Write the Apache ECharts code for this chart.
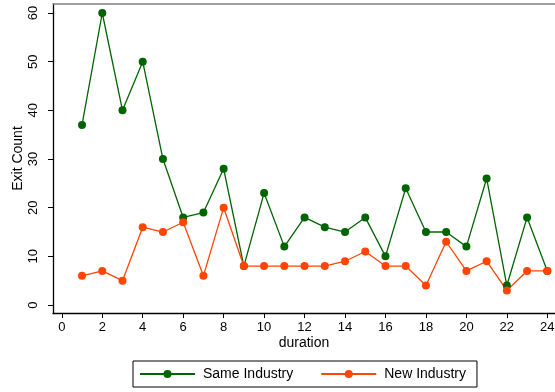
<!DOCTYPE html>
<html>
<head>
<meta charset="utf-8">
<script src="https://cdn.jsdelivr.net/npm/echarts@6/dist/echarts.min.js"></script>
<style>
  html, body { margin: 0; padding: 0; background: #fff; }
  #chart { width: 555px; height: 392px; }
</style>
</head>
<body>
<div id="chart"></div>
<script>
// Exits by duration, split by whether the move stayed in the same industry
const durations = [1, 2, 3, 4, 5, 6, 7, 8, 9, 10, 11, 12, 13, 14, 15, 16, 17, 18, 19, 20, 21, 22, 23, 24];
const sameIndustry = [37, 60, 40, 50, 30, 18, 19, 28, 8, 23, 12, 18, 16, 15, 18, 10, 24, 15, 15, 12, 26, 4, 18, 7];
const newIndustry = [6, 7, 5, 16, 15, 17, 6, 20, 8, 8, 8, 8, 8, 9, 11, 8, 8, 4, 13, 7, 9, 3, 7, 7];
const xTicks = [0, 2, 4, 6, 8, 10, 12, 14, 16, 18, 20, 22, 24];
const yTicks = [0, 10, 20, 30, 40, 50, 60];

const FONT = '"Liberation Sans", Arial, Helvetica, sans-serif';
const GREEN = '#006400';
const ORANGE = '#ff4500';

const pairs = (xs, ys) => xs.map((x, i) => [x, ys[i]]);

const chart = echarts.init(document.getElementById('chart'), null, { renderer: 'canvas' });
chart.setOption({
  animation: false,
  backgroundColor: '#ffffff',
  textStyle: { fontFamily: FONT },
  grid: { left: 53, right: 0, top: 4, bottom: 79, containLabel: false, outerBoundsMode: 'none' },
  xAxis: [
    {
      type: 'value',
      min: -0.435,
      max: 24.38,
      position: 'bottom',
      name: 'duration',
      nameLocation: 'middle',
      nameGap: 23,
      nameMoveOverlap: false,
      nameTextStyle: { fontSize: 14, color: '#000', fontFamily: FONT },
      axisLine: { onZero: false, lineStyle: { color: '#000', width: 1.3 } },
      axisTick: { show: true, length: 5, customValues: xTicks, lineStyle: { color: '#000' } },
      axisLabel: { customValues: xTicks, fontSize: 13, color: '#000', margin: 8, fontFamily: FONT },
      splitLine: { show: false }
    },
    {
      type: 'value',
      min: -0.435,
      max: 24.38,
      position: 'top',
      axisLine: { show: true, onZero: false, lineStyle: { color: '#808080', width: 1.5 } },
      axisTick: { show: false },
      axisLabel: { show: false },
      splitLine: { show: false }
    }
  ],
  yAxis: {
    type: 'value',
    min: -1.64,
    max: 61.85,
    name: 'Exit Count',
    nameLocation: 'middle',
    nameGap: 28,
    nameMoveOverlap: false,
    nameRotate: 90,
    nameTextStyle: { fontSize: 14, color: '#000', fontFamily: FONT },
    axisLine: { show: true, onZero: false, lineStyle: { color: '#000', width: 1.3 } },
    axisTick: { show: true, length: 5, customValues: yTicks, lineStyle: { color: '#000' } },
    axisLabel: { customValues: yTicks, rotate: 90, fontSize: 13, color: '#000', margin: 13, fontFamily: FONT },
    splitLine: { show: false }
  },
  legend: {
    left: 133,
    top: 361,
    orient: 'horizontal',
    padding: [6, 11, 6, 6],
    itemGap: 27,
    itemWidth: 55,
    itemHeight: 10,
    borderColor: '#000',
    borderWidth: 1,
    borderRadius: 0,
    textStyle: { fontSize: 14, color: '#000', fontFamily: FONT, padding: [0, 0, 0, 3] },
    data: ['Same Industry', 'New Industry']
  },
  series: [
    {
      name: 'Same Industry',
      type: 'line',
      data: pairs(durations, sameIndustry),
      symbol: 'circle',
      symbolSize: 8,
      itemStyle: { color: GREEN },
      lineStyle: { color: GREEN, width: 1.3 }
    },
    {
      name: 'New Industry',
      type: 'line',
      data: pairs(durations, newIndustry),
      symbol: 'circle',
      symbolSize: 8,
      itemStyle: { color: ORANGE },
      lineStyle: { color: ORANGE, width: 1.3 }
    }
  ]
});
</script>
</body>
</html>
